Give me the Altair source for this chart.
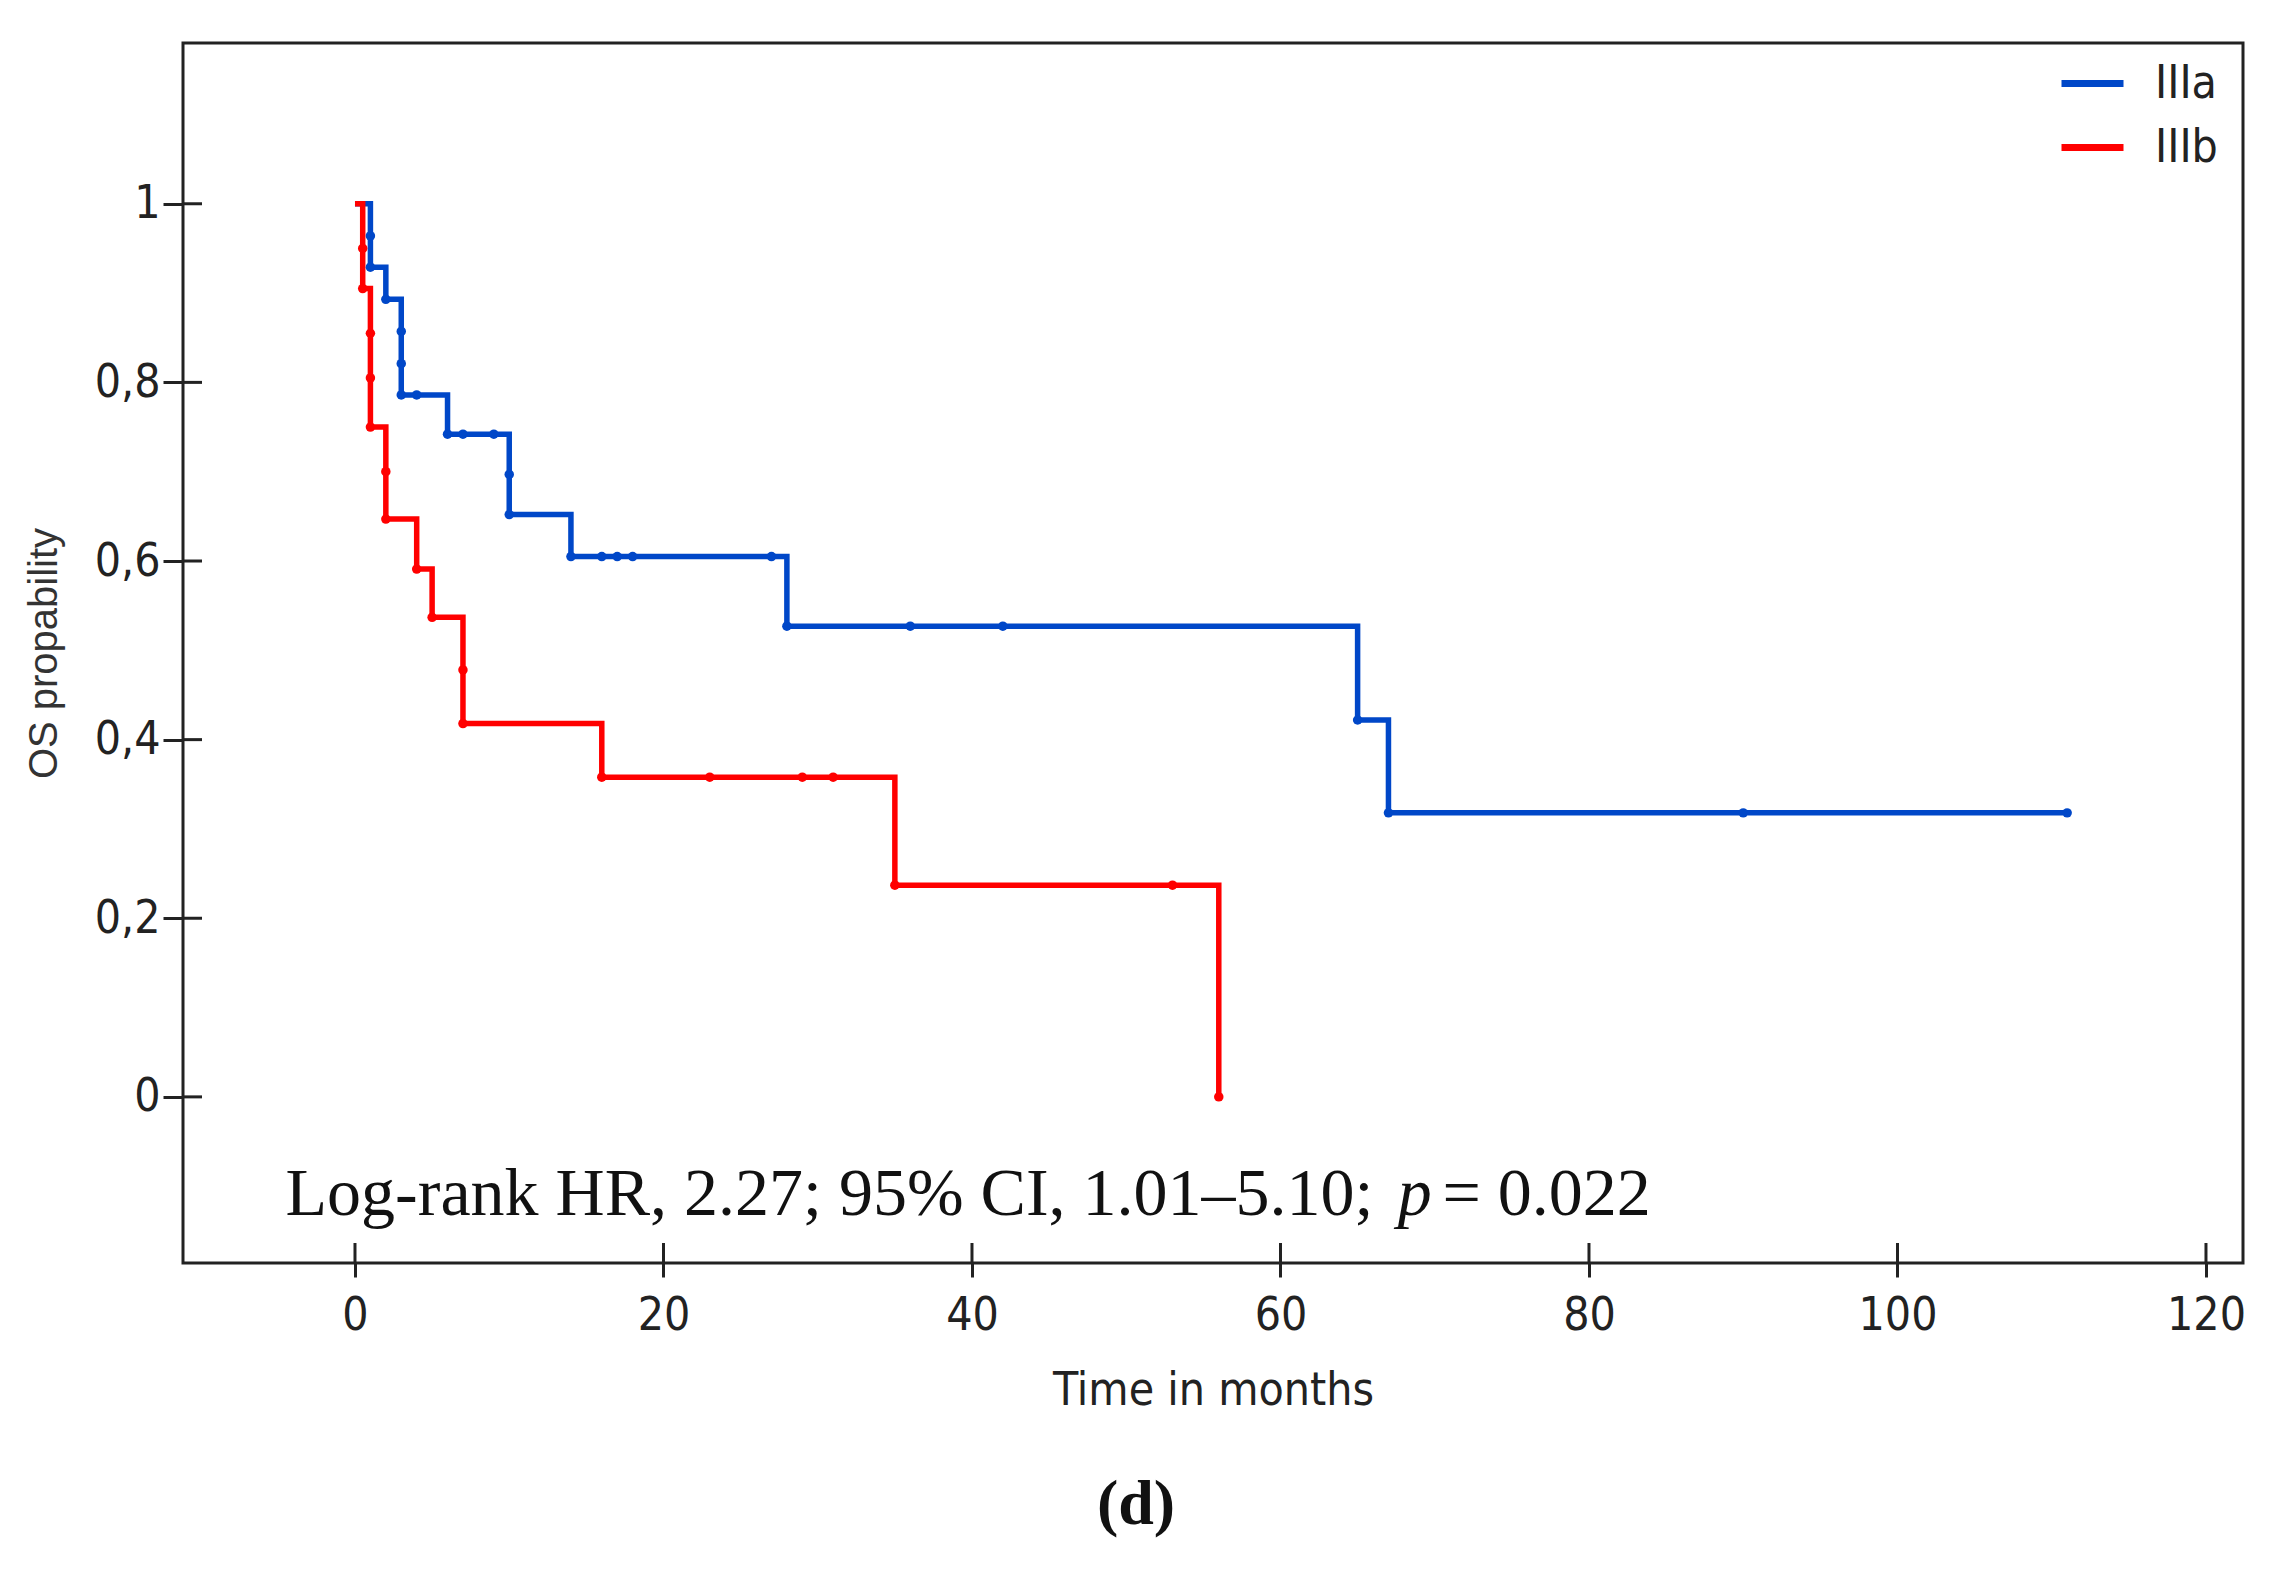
import altair as alt
import pandas as pd

# ---- data ----
groups = ["IIIa", "IIIb"]
colors = ["#0047C8", "#FF0000"]

# step curve vertices (time in months, OS probability)
a_time = [0, 1, 2, 3, 6, 10, 14, 28, 65, 67, 111]
a_surv = [1.0, 0.929, 0.893, 0.786, 0.742, 0.652, 0.605, 0.527, 0.422, 0.318, 0.318]
b_time = [0, 0.5, 1, 2, 4, 5, 7, 16, 35, 56]
b_surv = [1.0, 0.905, 0.75, 0.647, 0.591, 0.537, 0.418, 0.358, 0.237, 0.0]

# observation markers
a_pt_time = [1, 1, 2, 3, 3, 3, 4, 6, 7, 9, 10, 10, 14, 16, 17, 18, 27, 28, 36, 42, 65, 67, 90, 111]
a_pt_surv = [0.964, 0.929, 0.893, 0.857, 0.821, 0.786, 0.786, 0.742, 0.742, 0.742, 0.697, 0.652,
             0.605, 0.605, 0.605, 0.605, 0.605, 0.527, 0.527, 0.527, 0.422, 0.318, 0.318, 0.318]
b_pt_time = [0.5, 0.5, 1, 1, 1, 2, 2, 4, 5, 7, 7, 16, 23, 29, 31, 35, 53, 56]
b_pt_surv = [0.95, 0.905, 0.855, 0.805, 0.75, 0.70, 0.647, 0.591, 0.537, 0.478, 0.418,
             0.358, 0.358, 0.358, 0.358, 0.237, 0.237, 0.0]

x_ticks = [0, 20, 40, 60, 80, 100, 120]
y_ticks = [0, 0.2, 0.4, 0.6, 0.8, 1.0]

annot_text = ["Log-rank HR, 2.27; 95% CI, 1.01\u20135.10; ", "p", " = 0.022"]
annot_x = [-4.5, 67.6, 70.5]
annot_y = [-0.132, -0.132, -0.132]
annot_italic = [False, True, False]

# ---- tables ----
lines = pd.DataFrame({
    "t": a_time + b_time,
    "s": a_surv + b_surv,
    "g": [groups[0]] * len(a_time) + [groups[1]] * len(b_time),
    "o": list(range(len(a_time))) + list(range(len(b_time))),
})
pts = pd.DataFrame({
    "t": a_pt_time + b_pt_time,
    "s": a_pt_surv + b_pt_surv,
    "g": [groups[0]] * len(a_pt_time) + [groups[1]] * len(b_pt_time),
})
xt = pd.DataFrame({"v": x_ticks})
yt = pd.DataFrame({"v": y_ticks})
ann = pd.DataFrame({"txt": annot_text, "x": annot_x, "y": annot_y, "it": annot_italic})

W, H = 2060, 1220
XDOM = [-11.15, 122.4]
YDOM = [-0.186, 1.18]
LABEL_FONT = "Liberation Sans Narrow, DejaVu Sans Condensed, Liberation Sans, Arial, sans-serif"
SERIF = "Liberation Serif, Times New Roman, serif"
INK = "#222222"

xs = alt.Scale(domain=XDOM, nice=False, zero=False)
ys = alt.Scale(domain=YDOM, nice=False, zero=False)
cs = alt.Scale(domain=groups, range=colors)

xaxis = alt.Axis(values=x_ticks, title="Time in months", grid=False, domain=False,
                 tickSize=14, tickWidth=3, tickColor=INK, labelPadding=16,
                 labelFontSize=46, labelFont=LABEL_FONT, labelColor=INK,
                 titleFontSize=46, titleFont=LABEL_FONT, titleColor=INK,
                 titleFontWeight="normal", titlePadding=30)
yaxis = alt.Axis(values=y_ticks, title="OS propability", grid=False, domain=False,
                 tickSize=20, tickWidth=3, tickColor=INK, labelPadding=3,
                 labelFontSize=46, labelFont=LABEL_FONT, labelColor=INK,
                 labelExpr="replace(format(datum.value, '.1~f'), '.', ',')",
                 titleFontSize=40, titleFont="Liberation Sans, Arial, sans-serif",
                 titleColor="#333333", titleFontWeight="normal", titlePadding=30)

line = alt.Chart(lines).mark_line(interpolate="step-after", strokeWidth=5.5).encode(
    x=alt.X("t:Q", scale=xs, axis=xaxis),
    y=alt.Y("s:Q", scale=ys, axis=yaxis),
    color=alt.Color("g:N", scale=cs, legend=alt.Legend(
        title=None, orient="none", legendX=1875, legendY=6,
        symbolType="stroke", symbolSize=3844, symbolStrokeWidth=7,
        labelFontSize=46, labelFont=LABEL_FONT, labelColor=INK,
        labelOffset=28, rowPadding=6, padding=0)),
    order="o:Q",
)

dots = alt.Chart(pts).mark_circle(size=90, opacity=1).encode(
    x=alt.X("t:Q", scale=xs),
    y=alt.Y("s:Q", scale=ys),
    color=alt.Color("g:N", scale=cs, legend=None),
)

ytick_in = alt.Chart(yt).mark_rule(color=INK, strokeWidth=3).encode(
    y=alt.Y("v:Q", scale=ys), x=alt.value(0), x2=alt.value(19))
xtick_in = alt.Chart(xt).mark_rule(color=INK, strokeWidth=3).encode(
    x=alt.X("v:Q", scale=xs), y=alt.value(H), y2=alt.value(H - 20))

annot_base = alt.Chart(ann)
annot_normal = annot_base.transform_filter("!datum.it").mark_text(
    align="left", baseline="alphabetic", fontSize=68, font=SERIF, color="#111111").encode(
    x=alt.X("x:Q", scale=xs), y=alt.Y("y:Q", scale=ys), text="txt:N")
annot_ital = annot_base.transform_filter("datum.it").mark_text(
    align="left", baseline="alphabetic", fontSize=68, font=SERIF, fontStyle="italic",
    color="#111111").encode(
    x=alt.X("x:Q", scale=xs), y=alt.Y("y:Q", scale=ys), text="txt:N")

chart = alt.layer(ytick_in, xtick_in, line, dots, annot_normal, annot_ital).properties(
    width=W, height=H,
    autosize=alt.AutoSizeParams(type="none"),
    padding={"left": 175, "top": 35, "right": 45, "bottom": 300},
    title=alt.TitleParams("(d)", orient="bottom", anchor="middle", dx=-77, offset=60,
                          fontSize=64, font=SERIF, fontWeight="bold", color="#111111"),
).configure(background="white").configure_view(stroke=INK, strokeWidth=3)

chart.save("out.html", embed_options={"renderer": "svg", "actions": False})
